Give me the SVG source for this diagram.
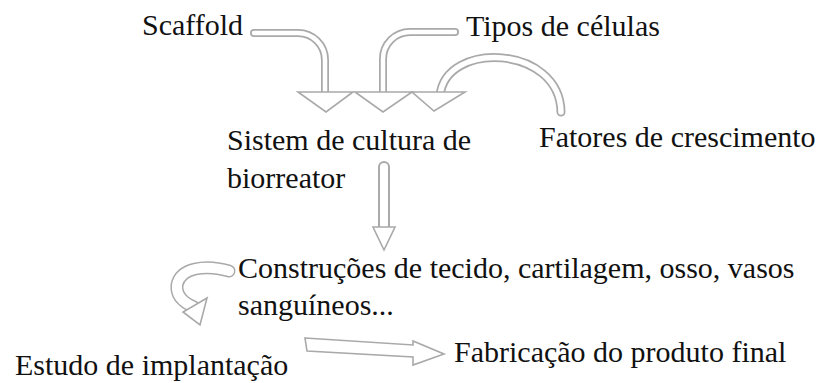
<svg xmlns="http://www.w3.org/2000/svg" width="823" height="383" viewBox="0 0 823 383">
<style>
text{font-family:'Liberation Serif','DejaVu Serif','Noto Serif',Tinos,'Times New Roman',serif;font-size:30px;fill:#111}
.outer{fill:none;stroke:#a9a9a9;stroke-linecap:round;stroke-linejoin:round}
.inner{fill:none;stroke:#fff;stroke-linecap:round;stroke-linejoin:round}
.head{fill:#fff;stroke:#a9a9a9;stroke-width:1.6;stroke-linejoin:miter}
</style>
<rect width="823" height="383" fill="#fff"/>
<g id="connectors">
<g id="arrow-scaffold">
<path class="outer" stroke-width="8" d="M254 33 H298 A27 27 0 0 1 325 60 V96"/>
<path class="inner" stroke-width="4.5" d="M254 33 H298 A27 27 0 0 1 325 60 V96"/>
<polygon class="head" points="298,92 353,92 326,112"/>
</g>
<g id="arrow-tipos">
<path class="outer" stroke-width="8" d="M455 32 H410 A27 27 0 0 0 383 59 V96"/>
<path class="inner" stroke-width="4.5" d="M455 32 H410 A27 27 0 0 0 383 59 V96"/>
<polygon class="head" points="355,92 412,92 383,112"/>
</g>
<g id="arrow-fatores">
<path class="outer" stroke-width="9" d="M561 112 C560 45 445 40 440 96"/>
<path class="inner" stroke-width="5.5" d="M561 112 C560 45 445 40 440 96"/>
<polygon class="head" points="412,92 465,92 434,111"/>
</g>
<g id="arrow-down">
<path class="outer" stroke-width="12" d="M384 167 V230"/>
<path class="inner" stroke-width="8" d="M384 167 V230"/>
<polygon class="head" points="373,227 395,227 384,250"/>
</g>
<g id="arrow-curved">
<path class="outer" stroke-width="13" d="M229 271 C205 264 180 268 177 285 C176 295 182 302 194 307"/>
<path class="inner" stroke-width="10" d="M229 271 C205 264 180 268 177 285 C176 295 182 302 194 307"/>
<polygon class="head" points="207,298 183,312 200,325"/>
</g>
<g id="arrow-right">
<polygon class="head" points="305,338 413,345 413,341 444,354 413,365 413,357 307,351"/>
</g>
</g>
<g id="node-scaffold"><text x="142" y="35" font-family="Liberation Serif, serif">Scaffold</text></g>
<g id="node-tipos"><text x="466" y="36" font-family="Liberation Serif, serif">Tipos de células</text></g>
<g id="node-sistema"><text x="227" y="150" font-family="Liberation Serif, serif">Sistem de cultura de</text><text x="227" y="188" font-family="Liberation Serif, serif">biorreator</text></g>
<g id="node-fatores"><text x="539" y="147" font-family="Liberation Serif, serif">Fatores de crescimento</text></g>
<g id="node-construcoes"><text x="238" y="278" font-family="Liberation Serif, serif">Construções de tecido, cartilagem, osso, vasos</text><text x="238" y="315" font-family="Liberation Serif, serif">sanguíneos...</text></g>
<g id="node-estudo"><text x="15" y="375" font-family="Liberation Serif, serif">Estudo de implantação</text></g>
<g id="node-fabricacao"><text x="454" y="362" font-family="Liberation Serif, serif">Fabricação do produto final</text></g>
</svg>
